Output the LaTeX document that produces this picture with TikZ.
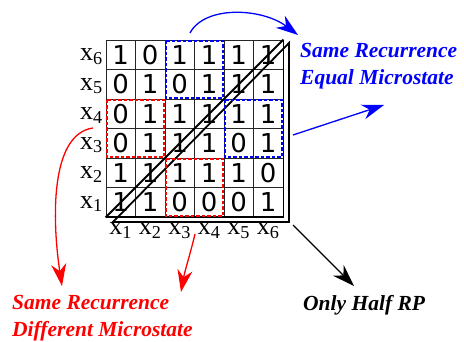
\documentclass[tikz,border=0pt]{standalone}
\usepackage{fontspec}
\setmainfont{Liberation Serif}
\newfontfamily\dvsans{DejaVu Sans}
\usetikzlibrary{arrows.meta,calc}
\definecolor{pblue}{RGB}{0,0,255}
\definecolor{pred}{RGB}{255,0,0}
\tikzset{
  cell/.style={draw=black!85,line width=0.8pt,minimum width=29.5pt,minimum height=29.5pt,inner sep=0pt,font=\dvsans\fontsize{26}{26}\selectfont},
  axlab/.style={inner sep=0pt,font=\fontsize{26}{26}\selectfont},
  frame/.style={line width=1.8pt,line join=miter},
  dbox/.style={line width=1.8pt,dash pattern=on 3.5pt off 2pt},
  ptr/.style={line width=1.3pt,-{Stealth[length=22pt,width=15pt,inset=7pt]}},
  note/.style={inner sep=0pt,align=left,font=\fontsize{21.5}{27}\selectfont\bfseries\itshape},
}
\begin{document}
\begin{tikzpicture}[x=1pt,y=-1pt]
\useasboundingbox (0,0) rectangle (464,342);
% cells
\foreach \r/\vals in {6/{1,0,1,1,1,1},5/{0,1,0,1,1,1},4/{0,1,1,1,1,1},3/{0,1,1,1,0,1},2/{1,1,1,1,1,0},1/{1,1,0,0,0,1}}{
  \foreach \v [count=\c] in \vals {
    \node[cell] (c-\r-\c) at ({106+29.5*(\c-0.5)},{40+29.5*(6-\r+0.5)}) {\v};
  }
}
% axis labels
\foreach \i in {1,...,6}{
  \node[axlab,anchor=base east] (yl-\i) at ({103},{40+29.5*(6-\i+0.5)+6}) {x\textsubscript{\i}};
  \node[axlab,anchor=base] (xl-\i) at ({106+29.5*(\i-0.5)},{235}) {x\textsubscript{\i}};
}
% half RP frame
\coordinate (f-bl) at (113,222);
\coordinate (f-br) at (289,222);
\coordinate (f-tr) at (289,43);
\draw[frame] (c-1-1.south west) -- (c-6-6.north east);
\draw[frame] (f-bl) -- (f-tr) -- (f-br) -- cycle;
\draw[frame] (c-1-1.south west) -- (c-1-6.south east) -- (c-6-6.north east);
% dashed boxes
\draw[dbox,pblue] ($(c-6-3.north west)+(1.2,1.2)$) rectangle ($(c-5-4.south east)+(-1.2,-1.2)$);
\draw[dbox,pblue] ($(c-4-5.north west)+(1.2,1.2)$) rectangle ($(c-3-6.south east)+(-1.2,-1.2)$);
\draw[dbox,pred] ($(c-4-1.north west)+(1.2,1.2)$) rectangle ($(c-3-2.south east)+(-1.2,-1.2)$);
\draw[dbox,pred] ($(c-2-3.north west)+(1.2,1.2)$) rectangle ($(c-1-4.south east)+(-1.2,-1.2)$);
% notes
\node[note,text=pblue,anchor=north west] (eq) at (300,43) {Same Recurrence\\Equal Microstate};
\node[note,text=pred,anchor=north west] (diff) at (12,295) {Same Recurrence\\Different Microstate};
\node[note,text=black,anchor=north west] (half) at (303,295) {Only Half RP};
% arrow anchors
\coordinate (b1s) at (190,33);
\coordinate (b1e) at (298,35);
\coordinate (b2s) at (293,135);
\coordinate (b2e) at (384,105);
\coordinate (r1s) at (93,128);
\coordinate (r1e) at (62,286);
\coordinate (r2s) at (195,234);
\coordinate (r2e) at (181,292);
\coordinate (ks) at (293,225);
\coordinate (ke) at (354,286);
\draw[ptr,pblue] (b1s) .. controls (205,5) and (262,8) .. (b1e);
\draw[ptr,pblue] (b2s) -- (b2e);
\draw[ptr,pred] (r1s) .. controls (50,134) and (52,220) .. (r1e);
\draw[ptr,pred] (r2s) .. controls (190,255) and (185,270) .. (r2e);
\draw[ptr,black] (ks) -- (ke);
\end{tikzpicture}
\end{document}
